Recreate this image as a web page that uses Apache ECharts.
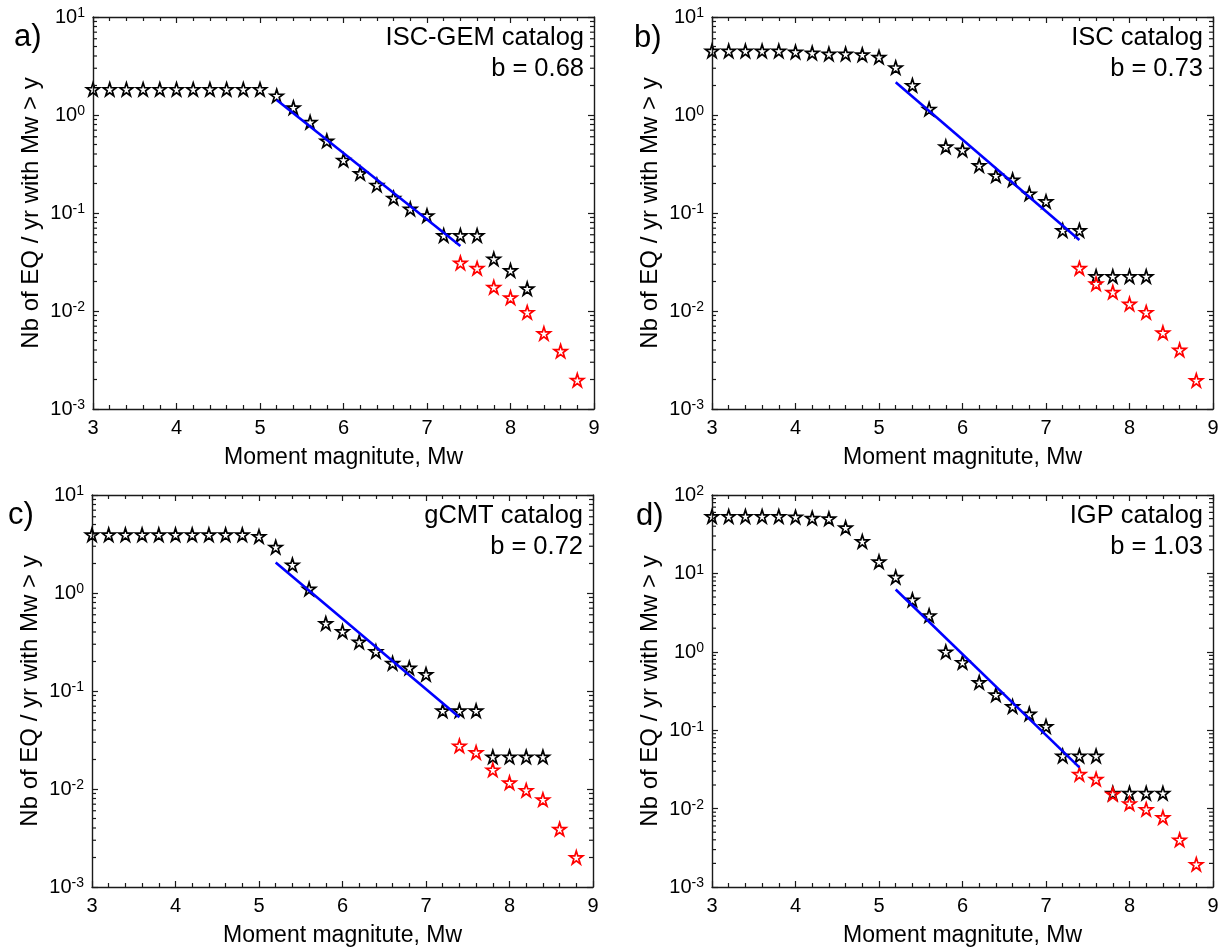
<!DOCTYPE html>
<html>
<head>
<meta charset="utf-8">
<script src="https://cdn.jsdelivr.net/npm/echarts@6/dist/echarts.min.js"></script>
<style>
html,body{margin:0;padding:0;background:#fff;}
#chart{width:1224px;height:949px;}
</style>
</head>
<body>
<div id="chart"></div>
<script>
// ---------------- DATA ----------------
const xTicks = [3, 4, 5, 6, 7, 8, 9];
const mwBlackAB = [3.0,3.2,3.4,3.6,3.8,4.0,4.2,4.4,4.6,4.8,5.0,5.2,5.4,5.6,5.8,6.0,6.2,6.4,6.6,6.8,7.0,7.2,7.4,7.6,7.8,8.0,8.2];
const mwBlackCD = [3.0,3.2,3.4,3.6,3.8,4.0,4.2,4.4,4.6,4.8,5.0,5.2,5.4,5.6,5.8,6.0,6.2,6.4,6.6,6.8,7.0,7.2,7.4,7.6,7.8,8.0,8.2,8.4];
const mwRed = [7.4,7.6,7.8,8.0,8.2,8.4,8.6,8.8];
const mwFit = [5.2, 7.4];

// a) ISC-GEM
const aBlack = [1.83,1.83,1.83,1.83,1.83,1.83,1.83,1.83,1.83,1.83,1.83,1.57,1.19,0.845,0.545,0.347,0.254,0.193,0.142,0.11,0.094,0.059,0.059,0.059,0.034,0.0259,0.0169];
const aRed = [0.031,0.0273,0.0175,0.0137,0.0097,0.0059,0.0039,0.00197];
const aFit = [1.42, 0.046];
// b) ISC
const bBlack = [4.5,4.5,4.5,4.5,4.5,4.4,4.3,4.2,4.2,4.13,3.9,3.05,2.01,1.15,0.475,0.44,0.306,0.241,0.218,0.157,0.131,0.0665,0.0665,0.0225,0.0225,0.0225,0.0225];
const bRed = [0.0273,0.019,0.0156,0.0118,0.0097,0.006,0.004,0.00196];
const bFit = [2.16, 0.053];
// c) gCMT
const cBlack = [3.93,3.93,3.93,3.93,3.93,3.93,3.93,3.93,3.93,3.93,3.78,2.94,1.94,1.1,0.49,0.405,0.317,0.253,0.192,0.172,0.148,0.063,0.063,0.063,0.0213,0.0213,0.0213,0.0213];
const cRed = [0.0276,0.0236,0.0157,0.0116,0.0097,0.0078,0.0039,0.002];
const cFit = [2.05, 0.054];
// d) IGP
const dBlack = [53.4,53.4,53.4,53.4,53.4,52.4,50.8,49.9,38.3,25.6,14.1,8.95,4.6,2.9,1.0,0.735,0.408,0.284,0.201,0.161,0.112,0.047,0.047,0.047,0.0157,0.0157,0.0157,0.0157];
const dRed = [0.0275,0.0238,0.0153,0.0116,0.0098,0.0077,0.004,0.00195];
const dFit = [6.23, 0.0335];

const catalogNames = ['ISC-GEM catalog', 'ISC catalog', 'gCMT catalog', 'IGP catalog'];
const bValues = ['b = 0.68', 'b = 0.73', 'b = 0.72', 'b = 1.03'];
const panelLetters = ['a)', 'b)', 'c)', 'd)'];
const xAxisTitle = 'Moment magnitute, Mw';
const yAxisTitle = 'Nb of EQ / yr with Mw > y';
const yMinorTicks = [0.002,0.003,0.004,0.005,0.006,0.007,0.008,0.009,
  0.02,0.03,0.04,0.05,0.06,0.07,0.08,0.09,
  0.2,0.3,0.4,0.5,0.6,0.7,0.8,0.9,
  2,3,4,5,6,7,8,9,
  20,30,40,50,60,70,80,90];

// ---------------- LAYOUT ----------------
const FONT = '"Liberation Sans", Arial, Helvetica, sans-serif';
const STAR = 'path://M50 0 L61.23 34.55 L97.55 34.55 L68.16 55.9 L79.39 90.45 L50 69.1 L20.61 90.45 L31.84 55.9 L2.45 34.55 L38.77 34.55 Z';
const AXC = '#1a1a1a';

const panels = [
  {grid:{left:93, top:17, width:501, height:392}, yMin:1e-3, yMax:1e1, bx:mwBlackAB, by:aBlack, ry:aRed, fy:aFit, letterXY:[14,37]},
  {grid:{left:712, top:17, width:501, height:392}, yMin:1e-3, yMax:1e1, bx:mwBlackAB, by:bBlack, ry:bRed, fy:bFit, letterXY:[634,38]},
  {grid:{left:92, top:495, width:501, height:392}, yMin:1e-3, yMax:1e1, bx:mwBlackCD, by:cBlack, ry:cRed, fy:cFit, letterXY:[8,515]},
  {grid:{left:712, top:495, width:501, height:392}, yMin:1e-3, yMax:1e2, bx:mwBlackCD, by:dBlack, ry:dRed, fy:dFit, letterXY:[636,516]}
];

const grids = [], xAxes = [], yAxes = [], series = [], graphics = [];

panels.forEach((p, i) => {
  grids.push(Object.assign({containLabel:false}, p.grid));
  const commonX = {
    type:'value', gridIndex:i, min:xTicks[0], max:xTicks[xTicks.length-1], interval:1,
    splitLine:{show:false},
    axisLine:{show:true, onZero:false, lineStyle:{color:AXC, width:1.4}},
    axisTick:{show:true, inside:true, length:6, lineStyle:{color:AXC, width:1.2}},
    minorTick:{show:true, splitNumber:5, length:4, lineStyle:{color:AXC, width:1.2}}
  };
  xAxes.push(Object.assign({}, commonX, {
    position:'bottom',
    axisLabel:{show:true, margin:9, color:'#000', fontSize:20, fontFamily:FONT},
    name:xAxisTitle, nameLocation:'middle', nameGap:37,
    nameTextStyle:{color:'#000', fontSize:23, fontFamily:FONT}
  }));
  xAxes.push(Object.assign({}, commonX, {position:'top', axisLabel:{show:false}}));

  const commonY = {
    type:'log', logBase:10, gridIndex:i, min:p.yMin, max:p.yMax, interval:1,
    splitLine:{show:false},
    axisLine:{show:true, onZero:false, lineStyle:{color:AXC, width:1.4}},
    axisTick:{show:true, inside:true, length:6, lineStyle:{color:AXC, width:1.2}},
    minorTick:{show:false}
  };
  yAxes.push(Object.assign({}, commonY, {
    position:'left',
    axisLabel:{
      show:true, margin:8, color:'#000', fontFamily:FONT,
      formatter: v => '{b|10}{s|' + Math.round(Math.log10(v)) + '}',
      rich:{
        b:{fontSize:20, fontFamily:FONT, color:'#000', lineHeight:21, padding:[4,0,0,0], verticalAlign:'bottom'},
        s:{fontSize:14, fontFamily:FONT, color:'#000', lineHeight:14, verticalAlign:'top'}
      }
    },
    name:yAxisTitle, nameLocation:'middle', nameGap:50, nameRotate:90,
    nameTextStyle:{color:'#000', fontSize:24, fontFamily:FONT}
  }));
  yAxes.push(Object.assign({}, commonY, {position:'right', axisLabel:{show:false}}));

  const xa = 2*i, ya = 2*i;
  // minor log ticks on left and right edges
  series.push({
    type:'custom', coordinateSystem:'cartesian2d', xAxisIndex:xa, yAxisIndex:ya, silent:true, clip:false, z:6,
    encode:{x:0, y:1},
    data: yMinorTicks.filter(v => v > p.yMin && v < p.yMax).map(v => [xTicks[0], v]),
    renderItem: (params, api) => {
      const v = api.value(1);
      const L = api.coord([xTicks[0], v]);
      const R = api.coord([xTicks[xTicks.length-1], v]);
      return {type:'group', children:[
        {type:'line', shape:{x1:L[0], y1:L[1], x2:L[0]+4, y2:L[1]}, style:{stroke:AXC, lineWidth:1.2}},
        {type:'line', shape:{x1:R[0]-4, y1:R[1], x2:R[0], y2:R[1]}, style:{stroke:AXC, lineWidth:1.2}}
      ]};
    }
  });
  series.push({
    type:'scatter', xAxisIndex:xa, yAxisIndex:ya, z:3,
    symbol:STAR, symbolSize:13,
    itemStyle:{color:'rgba(255,255,255,0)', borderColor:'#000', borderWidth:1.7, opacity:1},
    data:p.bx.map((x, j) => [x, p.by[j]])
  });
  series.push({
    type:'scatter', xAxisIndex:xa, yAxisIndex:ya, z:4,
    symbol:STAR, symbolSize:13,
    itemStyle:{color:'rgba(255,255,255,0)', borderColor:'#ff0000', borderWidth:1.7, opacity:1},
    data:mwRed.map((x, j) => [x, p.ry[j]])
  });
  series.push({
    type:'line', xAxisIndex:xa, yAxisIndex:ya, z:5,
    symbol:'none', lineStyle:{color:'#0000ff', width:2.6},
    data:mwFit.map((x, j) => [x, p.fy[j]])
  });

  const right = p.grid.left + p.grid.width;
  graphics.push({type:'text', x:p.letterXY[0], y:p.letterXY[1],
    style:{text:panelLetters[i], font:'31px ' + FONT, fill:'#000', align:'left', verticalAlign:'middle'}});
  graphics.push({type:'text', x:right - 10, y:p.grid.top + 21,
    style:{text:catalogNames[i], font:'25.5px ' + FONT, fill:'#000', align:'right', verticalAlign:'middle'}});
  graphics.push({type:'text', x:right - 10, y:p.grid.top + 52,
    style:{text:bValues[i], font:'25.5px ' + FONT, fill:'#000', align:'right', verticalAlign:'middle'}});
});

const chart = echarts.init(document.getElementById('chart'), null, {renderer:'canvas'});
chart.setOption({
  animation:false,
  backgroundColor:'#fff',
  grid:grids, xAxis:xAxes, yAxis:yAxes, series:series, graphic:graphics
});
</script>
</body>
</html>
